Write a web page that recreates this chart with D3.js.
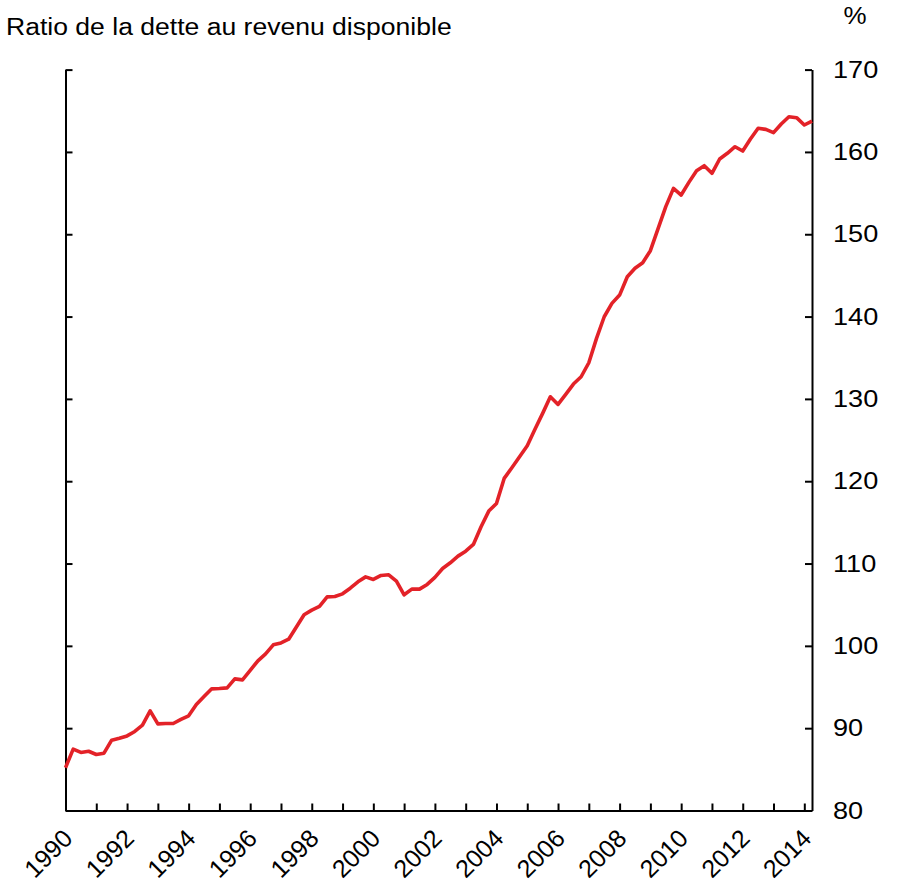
<!DOCTYPE html>
<html>
<head>
<meta charset="utf-8">
<script src="https://cdn.jsdelivr.net/npm/d3@7"></script>
<style>
  body { margin: 0; background: #fff; }
  svg { display: block; font-family: "Liberation Sans", Arial, sans-serif; }
</style>
</head>
<body>
<div id="chart"></div>
<script>
// Quarterly household debt-to-disposable-income ratio, 1990Q1 - 2014Q2
const startYear = 1990;
const ratio = [
  85.2, 87.45, 87.05, 87.2,      // 1990
  86.8, 86.96, 88.54, 88.78,     // 1991
  89.06, 89.6, 90.36, 92.1,      // 1992
  90.52, 90.57, 90.57, 91.06,    // 1993
  91.5, 92.88, 93.85, 94.78,     // 1994
  94.82, 94.9, 95.99, 95.87,     // 1995
  97.01, 98.18, 99.03, 100.12,   // 1996
  100.36, 100.81, 102.3, 103.77, // 1997
  104.34, 104.79, 105.95, 106.0, // 1998
  106.32, 107.0, 107.78, 108.38, // 1999
  108.07, 108.55, 108.63, 107.86,// 2000
  106.2, 106.89, 106.89, 107.46, // 2001
  108.31, 109.4, 110.09, 110.9,  // 2002
  111.5, 112.32, 114.46, 116.37, // 2003
  117.3, 120.34, 121.63, 122.97, // 2004
  124.3, 126.3, 128.24, 130.26,  // 2005
  129.33, 130.55, 131.8, 132.69, // 2006
  134.39, 137.35, 139.98, 141.6, // 2007
  142.61, 144.84, 145.86, 146.54,// 2008
  148.0, 150.68, 153.36, 155.57, // 2009
  154.76, 156.3, 157.72, 158.33, // 2010
  157.4, 159.14, 159.83, 160.63, // 2011
  160.11, 161.57, 162.87, 162.74,// 2012
  162.34, 163.39, 164.28, 164.16,// 2013
  163.27, 163.75                 // 2014
];
const tickYears = [1990, 1991, 1992, 1993, 1994, 1995, 1996, 1997, 1998, 1999, 2000, 2001,
  2002, 2003, 2004, 2005, 2006, 2007, 2008, 2009, 2010, 2011, 2012, 2013, 2014];
const labelYears = [1990, 1992, 1994, 1996, 1998, 2000, 2002, 2004, 2006, 2008, 2010, 2012, 2014];
const valueTicks = [80, 90, 100, 110, 120, 130, 140, 150, 160, 170];
const title = "Ratio de la dette au revenu disponible";
const unit = "%";

const width = 898;
const height = 887;
const stretch = 1.13; // horizontal text in the reference is a little wider than tall

const points = ratio.map((v, i) => ({ t: startYear + i / 4, v }));

const x = d3.scaleLinear().domain([1990, 2014.25]).range([65.5, 812]);
const y = d3.scaleLinear().domain([80, 170]).range([810.5, 69.6]);

const svg = d3.select("#chart").append("svg")
  .attr("width", width)
  .attr("height", height)
  .attr("viewBox", [0, 0, width, height]);

// Axes (ticks point into the plot)
svg.append("g")
  .attr("transform", `translate(0,${y(80)})`)
  .call(d3.axisBottom(x).tickValues(tickYears).tickSize(-7).tickSizeOuter(0).tickFormat(""));

svg.append("g")
  .attr("transform", `translate(${x(1990)},0)`)
  .call(d3.axisLeft(y).tickValues(valueTicks).tickSize(-7).tickSizeOuter(0).tickFormat(""));

svg.append("g")
  .attr("transform", `translate(${x(2014.25)},0)`)
  .call(d3.axisRight(y).tickValues(valueTicks).tickSize(-7).tickSizeOuter(0).tickFormat(""));

svg.selectAll(".domain, .tick line")
  .attr("stroke", "#000")
  .attr("stroke-width", 2);

// Right axis labels
svg.append("g")
  .selectAll("text")
  .data(valueTicks)
  .join("text")
  .attr("transform", (d) => `translate(833,${y(d)}) scale(${stretch},1)`)
  .attr("dy", "0.34em")
  .attr("font-size", 24)
  .attr("fill", "#000")
  .text((d) => d);

// Bottom axis labels, rotated 45 degrees
svg.append("g")
  .selectAll("text")
  .data(labelYears)
  .join("text")
  .attr("transform", (d) => `translate(${x(d) + 8.5},840) rotate(-45)`)
  .attr("text-anchor", "end")
  .attr("font-size", 25)
  .attr("fill", "#000")
  .text((d) => d);

// Title and unit
svg.append("text")
  .attr("transform", `translate(6,35) scale(${stretch},1)`)
  .attr("font-size", 23.5)
  .attr("fill", "#000")
  .text(title);

svg.append("text")
  .attr("transform", `translate(855,24) scale(${stretch},1)`)
  .attr("text-anchor", "middle")
  .attr("font-size", 23)
  .attr("fill", "#000")
  .text(unit);

// The series line
const line = d3.line()
  .x((d) => x(d.t))
  .y((d) => y(d.v));

svg.append("path")
  .datum(points)
  .attr("fill", "none")
  .attr("stroke", "#e32228")
  .attr("stroke-width", 3.6)
  .attr("stroke-linejoin", "round")
  .attr("d", line);
</script>
</body>
</html>
